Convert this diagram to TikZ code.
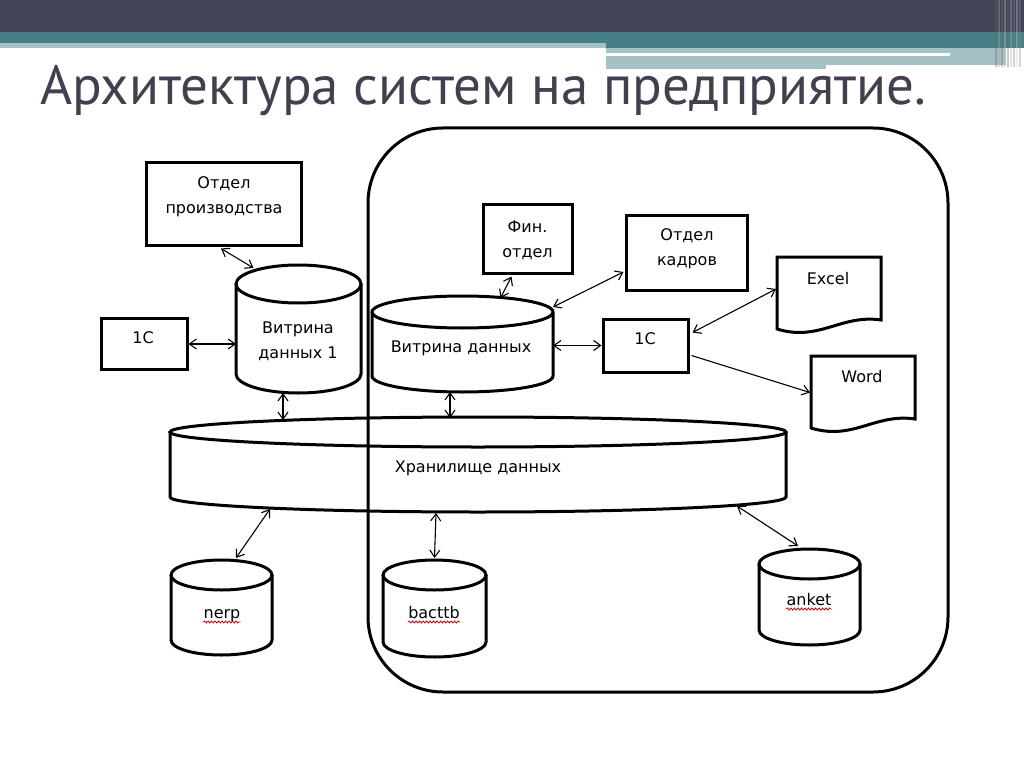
\documentclass[tikz,border=0pt]{standalone}
\usepackage{fontspec}
\setmainfont{DejaVu Sans}
\newfontfamily\dgfont{DejaVu Sans}
\newfontfamily\ttlfont{PT Sans}
\usetikzlibrary{arrows.meta,decorations.pathmorphing}
\definecolor{hdark}{RGB}{66,67,87}
\definecolor{hteal}{RGB}{70,127,133}
\definecolor{hlight}{RGB}{164,194,197}
\definecolor{ttlcol}{RGB}{64,64,80}
\tikzset{
  box/.style={draw, line width=3pt, inner sep=0pt},
  ghost/.style={inner sep=0pt, outer sep=0pt},
  lbl/.style={font=\dgfont\fontsize{16}{25}\selectfont, align=center, inner sep=0pt},
  conn/.style={line width=1.1pt, {Straight Barb[length=7pt,width=10pt]}-{Straight Barb[length=7pt,width=10pt]}},
  conn1/.style={line width=1.1pt, -{Straight Barb[length=7pt,width=10pt]}},
  thickline/.style={line width=3pt},
  squig/.style={red!85!black, line width=0.8pt, decorate, decoration={snake, amplitude=1pt, segment length=3.5pt}}
}
% name, cx, top, bottom, rx, ry
\newcommand\dbcyl[6]{%
  \node[ghost, minimum width={2*#5*1pt}, minimum height={(#4-#3)*1pt}] (#1) at (#2,{(#3+#4)/2}) {};
  \draw[thickline] (#2,{#3+#6}) ellipse [x radius=#5pt, y radius=#6pt];
  \draw[thickline] ({#2-#5},{#3+#6}) -- ({#2-#5},{#4-#6})
     arc[start angle=180, end angle=360, x radius=#5pt, y radius=#6pt] -- ({#2+#5},{#3+#6});
}
% name, x0, y0 (top-left), width 104
\newcommand\docshape[3]{%
  \node[ghost, minimum width=104pt, minimum height=68pt] (#1) at ({#2+52},{#3+34}) {};
  \draw[thickline, line join=miter] ({#2},{#3+73}) -- (#2,#3) -- ({#2+104},#3) -- ({#2+104},{#3+63})
     .. controls ({#2+64},{#3+57}) and ({#2+42},{#3+85}) .. ({#2},{#3+72});
}
\begin{document}
\begin{tikzpicture}[x=1pt,y=-1pt]
\useasboundingbox (0,0) rectangle (1024,767);
\fill[white] (0,0) rectangle (1024,767);
% header
\fill[hdark] (0,0) rectangle (1024,32);
\fill[hteal] (0,32) rectangle (1024,43);
\fill[hteal] (606,43) rectangle (1024,48);
\fill[hlight] (0,43) rectangle (606,48);
\fill[hlight] (606,48) rectangle (1006,65);
\fill[hlight] (606,65) rectangle (826,69);
\fill[white] (606,53) rectangle (950,56);
\foreach \xx/\cc in {995/60,998/35,1001/55,1004/25,1007/60,1010/30,1013/50,1016/20,1019/45}{
  \fill[black!\cc, opacity=0.35] (\xx,0) rectangle ({\xx+1.6},67);
}
% title
\node[anchor=base west, inner sep=0pt, font=\ttlfont\fontsize{55}{62}\selectfont, text=ttlcol] (title) at (40,105) {Архитектура систем на предприятие.};
% big zone
\node[draw, line width=3pt, rounded corners=75pt, minimum width=580pt, minimum height=564pt] (zone) at (658,410) {};
% boxes
\node[box, minimum width=155pt, minimum height=82pt] (prod) at (224,204) {};
\node[lbl] (prodt) at (224,197) {Отдел\\производства};
\node[box, minimum width=86pt, minimum height=51pt] (c1L) at (144,344) {};
\node[lbl, anchor=base] (c1Lt) at (143,343) {1C};
\node[box, minimum width=89pt, minimum height=68pt] (fin) at (527.5,239) {};
\node[lbl] (fint) at (527.5,240) {Фин.\\отдел};
\node[box, minimum width=121pt, minimum height=74pt] (hr) at (686.5,253) {};
\node[lbl] (hrt) at (687,249) {Отдел\\кадров};
\node[box, minimum width=85pt, minimum height=53pt] (c1R) at (645.5,345.5) {};
\node[lbl, anchor=base] (c1Rt) at (645,344) {1C};
% documents
\docshape{exc}{777}{257}
\node[lbl, anchor=base] (exct) at (828,284) {Excel};
\docshape{word}{811}{356}
\node[lbl, anchor=base] (wordt) at (862,382) {Word};
% cylinders
\dbcyl{v1}{298.5}{265}{393}{62.5}{19}
\node[lbl] (v1t) at (298,341) {Витрина\\данных 1};
\dbcyl{v2}{462.5}{296}{392}{90.5}{16}
\node[lbl, anchor=base] (v2t) at (461,352) {Витрина данных};
\dbcyl{store}{478}{417}{512}{308}{15}
\node[lbl, anchor=base] (storet) at (478,472) {Хранилище данных};
\dbcyl{nerp}{221.5}{560}{655}{50.5}{15}
\node[lbl, anchor=base] (nerpt) at (222,618) {nerp};
\dbcyl{bact}{434.5}{560}{657}{51.5}{15}
\node[lbl, anchor=base] (bactt) at (434,618) {bacttb};
\dbcyl{anket}{809.5}{549}{645}{50.5}{15}
\node[lbl, anchor=base] (anktt) at (809,605) {anket};
% spell-check squiggles
\draw[squig] ([shift={(0,4)}]nerpt.base west) -- ([shift={(0,4)}]nerpt.base east);
\draw[squig] ([shift={(0,4)}]bactt.base west) -- ([shift={(0,4)}]bactt.base east);
\draw[squig] ([shift={(0,4)}]anktt.base west) -- ([shift={(0,4)}]anktt.base east);
% connectors
\draw[conn] ([shift={(-3,2)}]prod.south) -- ([shift={(-45,3)}]v1.north);
\draw[conn] (c1L.east) -- (c1L.east -| v1.west);
\draw[conn] ([shift={(-15.5,0)}]v1.south) -- ([shift={(-15.5,3)}]v1.south |- store.north);
\draw[conn] ([shift={(-16,2)}]fin.south) -- ([shift={(38,2)}]v2.north);
\draw[conn] ([shift={(-1,19)}]hr.west) -- ([shift={(0,11)}]v2.north east);
\draw[conn] (c1R.west) -- (c1R.west -| v2.east);
\draw[conn] ([shift={(-12.5,0)}]v2.south) -- ([shift={(-12.5,1)}]v2.south |- store.north);
\draw[conn] ([shift={(3,-13)}]c1R.east) -- ([shift={(-1,-2)}]exc.west);
\draw[conn1] ([shift={(2,10)}]c1R.east) -- ([shift={(-1,2.5)}]word.west);
\draw[conn] ([shift={(-208,-3)}]store.south) -- ([shift={(14.5,-2)}]nerp.north);
\draw[conn] ([shift={(-42,1)}]store.south) -- ([shift={(0,-2)}]bact.north);
\draw[conn] ([shift={(259,-6)}]store.south) -- ([shift={(-11.5,-3)}]anket.north);
\end{tikzpicture}
\end{document}
